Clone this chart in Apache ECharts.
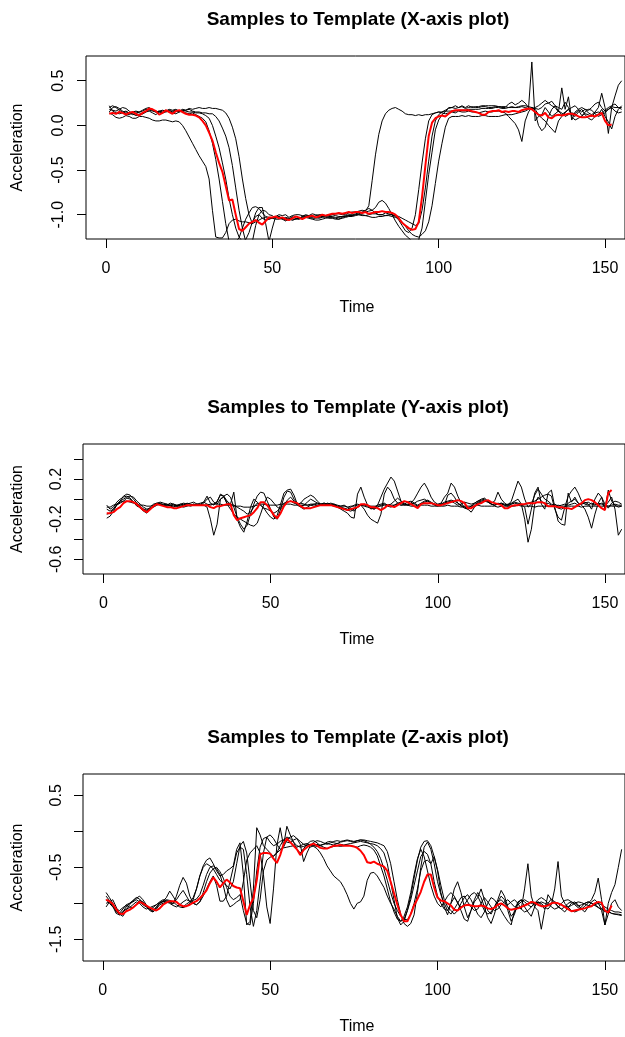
<!DOCTYPE html>
<html>
<head>
<meta charset="utf-8">
<script src="https://cdn.jsdelivr.net/npm/echarts@6/dist/echarts.min.js"></script>
<style>
html,body{margin:0;padding:0;background:#fff;}
#chart{width:625px;height:1037px;}
</style>
</head>
<body>
<div id="chart"></div>
<script>
// ---------- DATA (values at Time = 1, 2, 3, ...) ----------
const titles = ['Samples to Template (X-axis plot)', 'Samples to Template (Y-axis plot)', 'Samples to Template (Z-axis plot)'];
const xAxisTitle = 'Time';
const yAxisTitle = 'Acceleration';
const timeTicks = [0, 50, 100, 150];
const xPanelTicks = [0.5, 0.0, -0.5, -1.0];
const xPanelLabels = [0.5, 0.0, -0.5, -1.0];
const yPanelTicks = [0.4, 0.2, 0.0, -0.2, -0.4, -0.6];
const yPanelLabels = [0.2, -0.2, -0.6];
const zPanelTicks = [0.5, 0.0, -0.5, -1.0, -1.5];
const zPanelLabels = [0.5, -0.5, -1.5];

const xTemplate = [
0.13,0.14,0.13,0.15,0.14,0.12,0.14,0.15,0.13,0.11,
0.14,0.16,0.19,0.18,0.16,0.12,0.14,0.17,0.15,0.13,
0.16,0.17,0.15,0.13,0.12,0.12,0.11,0.09,0.05,0.00,
-0.08,-0.17,-0.30,-0.42,-0.52,-0.68,-0.84,-0.83,-1.00,-1.16,
-1.18,-1.14,-1.10,-1.08,-1.06,-1.09,-1.11,-1.07,-1.03,-1.03,
-1.02,-1.04,-1.03,-1.05,-1.06,-1.04,-1.02,-1.03,-1.05,-1.03,
-1.02,-1.01,-1.03,-1.02,-1.00,-1.01,-1.00,-0.99,-0.99,-0.98,
-0.99,-0.98,-0.97,-0.98,-0.97,-0.97,-0.98,-0.97,-0.99,-0.98,
-0.97,-0.97,-0.96,-0.97,-0.97,-0.98,-1.00,-1.04,-1.09,-1.12,
-1.15,-1.17,-1.16,-1.08,-0.80,-0.45,-0.12,0.03,0.08,0.10,
0.11,0.10,0.13,0.16,0.17,0.17,0.17,0.17,0.17,0.16,
0.15,0.14,0.12,0.12,0.15,0.16,0.16,0.17,0.15,0.16,
0.15,0.16,0.16,0.15,0.17,0.18,0.19,0.18,0.15,0.12,
0.11,0.14,0.09,0.08,0.11,0.12,0.11,0.12,0.13,0.13,
0.12,0.10,0.09,0.09,0.10,0.11,0.10,0.12,0.14,0.05,
0.00,0.01];

const xSample1 = [
0.14,0.12,0.09,0.08,0.09,0.11,0.10,0.08,0.08,0.10,
0.10,0.09,0.08,0.06,0.05,0.05,0.06,0.06,0.05,0.04,
0.05,0.04,0.00,-0.06,-0.13,-0.20,-0.27,-0.34,-0.40,-0.46,
-0.60,-0.95,-1.25,-1.26,-1.26,-1.20,-1.10,-1.06,-1.05,-1.07,
-1.08,-1.08,-1.09,-1.10,-1.08,-1.06,-1.04,-1.03,-1.05,-1.04,
-1.05,-1.05,-1.04,-1.04,-1.05,-1.06,-1.05,-1.04,-1.03,-1.02,
-1.03,-1.04,-1.04,-1.03,-1.02,-1.01,-1.00,-1.00,-0.99,-0.99,
-1.00,-1.00,-0.98,-0.97,-0.97,-0.96,-0.95,-0.96,-0.90,-0.62,
-0.33,-0.10,0.05,0.13,0.17,0.19,0.20,0.18,0.16,0.13,
0.12,0.12,0.11,0.12,0.11,0.12,0.12,0.13,0.14,0.15,
0.15,0.16,0.16,0.16,0.16,0.17,0.17,0.17,0.18,0.18,
0.18,0.18,0.19,0.19,0.19,0.19,0.20,0.20,0.19,0.19,
0.20,0.21,0.20,0.20,0.21,0.20,0.19,0.71,0.05,0.10,
0.12,0.20,0.15,0.10,0.13,0.16,0.14,0.10,0.12,0.14,
0.13,0.17,0.11,0.13,0.12,0.10,0.14,0.15,0.13,0.17,
0.20,0.22,0.24,0.20,0.18];

const xSample2 = [
0.20,0.22,0.20,0.17,0.15,0.16,0.14,0.12,0.13,0.15,
0.17,0.19,0.20,0.17,0.15,0.16,0.14,0.15,0.16,0.16,
0.17,0.15,0.16,0.14,0.13,0.14,0.12,0.10,0.08,0.04,
-0.06,-0.20,-0.38,-0.60,-0.85,-1.10,-1.30,-1.35,-1.30,-1.26,
-1.15,-1.05,-0.98,-0.92,-0.91,-0.93,-0.98,-1.02,-1.03,-1.04,
-1.03,-1.02,-1.04,-1.06,-1.05,-1.03,-1.04,-1.05,-1.02,-1.00,
-1.01,-1.02,-1.03,-1.04,-1.03,-1.02,-1.01,-1.00,-1.01,-1.02,
-1.02,-1.01,-1.00,-1.00,-0.99,-0.98,-0.98,-0.97,-0.96,-0.95,
-0.92,-0.86,-0.84,-0.87,-0.93,-1.00,-1.07,-1.13,-1.18,-1.23,
-1.26,-1.30,-1.32,-1.28,-1.15,-0.85,-0.55,-0.30,-0.05,0.06,
0.12,0.15,0.20,0.20,0.19,0.20,0.22,0.20,0.22,0.20,
0.21,0.21,0.22,0.22,0.22,0.22,0.22,0.21,0.20,0.20,
0.24,0.26,0.23,0.25,0.28,0.25,0.20,0.18,0.20,0.22,
0.25,0.28,0.25,0.22,0.20,0.15,0.42,0.18,0.32,0.06,
0.15,0.18,0.20,0.18,0.14,0.12,0.15,0.20,0.36,0.20,
-0.09,0.20,0.33,0.45,0.50];

const xSample3 = [
0.18,0.17,0.16,0.18,0.20,0.19,0.16,0.13,0.11,0.12,
0.13,0.15,0.16,0.14,0.12,0.15,0.16,0.17,0.15,0.14,
0.13,0.15,0.17,0.16,0.15,0.15,0.14,0.14,0.13,0.11,
0.08,0.00,-0.12,-0.25,-0.42,-0.60,-0.82,-1.00,-1.15,-1.25,
-1.30,-1.28,-1.20,-1.08,-1.02,-1.00,-1.04,-1.06,-1.05,-1.03,
-1.02,-1.04,-1.05,-1.03,-1.04,-1.06,-1.05,-1.04,-1.02,-1.01,
-1.02,-1.03,-1.01,-1.00,-1.00,-1.01,-1.02,-1.02,-1.03,-1.03,
-1.02,-1.02,-1.01,-1.01,-1.00,-1.00,-1.01,-1.01,-1.00,-0.99,
-0.99,-1.00,-1.00,-0.98,-0.99,-1.00,-1.02,-1.06,-1.12,-1.18,
-1.20,-1.15,-1.00,-0.72,-0.42,-0.15,0.05,0.12,0.14,0.15,
0.14,0.13,0.14,0.15,0.14,0.16,0.15,0.15,0.16,0.15,
0.15,0.14,0.15,0.16,0.15,0.15,0.16,0.16,0.15,0.14,
0.10,0.06,0.02,-0.05,-0.18,0.05,0.15,0.20,0.18,0.12,
0.08,0.05,0.00,-0.04,-0.08,0.05,0.10,0.14,0.18,0.12,
0.10,0.15,0.18,0.12,0.08,0.06,0.10,0.12,0.18,0.10,
0.04,-0.04,0.10,0.18,0.22];

const xSample4 = [
0.22,0.16,0.14,0.13,0.14,0.15,0.14,0.15,0.16,0.15,
0.16,0.18,0.17,0.16,0.15,0.16,0.17,0.16,0.17,0.15,
0.16,0.16,0.17,0.17,0.18,0.16,0.15,0.15,0.14,0.14,
0.13,0.13,0.10,0.05,-0.03,-0.12,-0.25,-0.45,-0.70,-0.95,
-1.15,-1.30,-1.35,-1.30,-1.12,-1.00,-0.95,-0.96,-1.00,-1.01,
-1.04,-1.02,-1.05,-1.07,-1.05,-1.02,-1.04,-1.05,-1.04,-1.03,
-1.04,-1.05,-1.06,-1.06,-1.05,-1.04,-1.03,-1.03,-1.04,-1.05,
-1.04,-1.03,-1.02,-1.02,-1.01,-1.00,-1.00,-1.01,-1.02,-1.03,
-1.03,-1.02,-1.02,-1.01,-1.01,-1.02,-1.03,-1.04,-1.08,-1.13,
-1.18,-1.22,-1.24,-1.25,-1.22,-1.18,-1.08,-0.90,-0.65,-0.40,
-0.20,-0.02,0.08,0.10,0.10,0.10,0.11,0.10,0.11,0.10,
0.10,0.10,0.11,0.11,0.10,0.10,0.10,0.10,0.11,0.12,
0.12,0.12,0.13,0.14,0.15,0.16,0.18,0.20,0.14,0.00,
-0.06,-0.02,0.10,0.18,0.22,0.20,0.18,0.26,0.20,0.10,
0.06,0.08,0.10,0.15,0.18,0.17,0.13,0.10,0.12,0.14,
0.18,0.20,0.16,0.14,0.15];

const xSample5 = [
0.15,0.20,0.21,0.19,0.16,0.13,0.12,0.14,0.15,0.14,
0.13,0.15,0.18,0.17,0.16,0.15,0.14,0.16,0.18,0.17,
0.18,0.16,0.18,0.17,0.19,0.18,0.19,0.20,0.19,0.19,
0.20,0.19,0.19,0.18,0.17,0.14,0.08,-0.02,-0.15,-0.35,
-0.60,-0.82,-1.00,-1.10,-0.98,-0.92,-0.92,-1.10,-1.30,-1.15,
-1.02,-1.00,-1.01,-1.00,-1.03,-1.01,-1.00,-1.00,-1.01,-1.02,
-1.01,-0.99,-1.00,-1.01,-1.02,-1.03,-1.04,-1.04,-1.05,-1.05,
-1.03,-1.02,-1.01,-1.01,-1.00,-0.99,-0.97,-0.95,-0.93,-0.95,
-0.98,-1.00,-1.00,-1.01,-1.00,-1.00,-1.01,-1.02,-1.04,-1.06,
-1.08,-1.10,-1.12,-1.10,-0.95,-0.70,-0.40,-0.12,0.05,0.12,
0.15,0.17,0.19,0.20,0.22,0.20,0.21,0.19,0.20,0.21,
0.20,0.20,0.21,0.21,0.20,0.20,0.21,0.21,0.21,0.21,
0.20,0.20,0.20,0.21,0.22,0.22,0.21,0.20,0.19,0.18,
0.20,0.24,0.25,0.27,0.22,0.16,0.12,0.15,0.18,0.20,
0.22,0.18,0.15,0.18,0.17,0.20,0.24,0.26,0.20,0.16,
0.18,0.21,0.20,0.20,0.20];

const yTemplate = [
-0.14,-0.14,-0.13,-0.10,-0.08,-0.04,-0.02,-0.02,-0.03,-0.05,
-0.08,-0.11,-0.13,-0.10,-0.07,-0.05,-0.06,-0.07,-0.08,-0.08,
-0.09,-0.09,-0.08,-0.07,-0.06,-0.06,-0.06,-0.06,-0.06,-0.06,
-0.06,-0.08,-0.09,-0.07,-0.07,-0.06,-0.05,-0.05,-0.16,-0.21,
-0.19,-0.18,-0.17,-0.16,-0.13,-0.09,-0.03,-0.03,-0.06,-0.11,
-0.16,-0.19,-0.14,-0.07,-0.03,-0.02,-0.03,-0.04,-0.07,-0.09,
-0.09,-0.09,-0.08,-0.07,-0.06,-0.06,-0.06,-0.06,-0.07,-0.08,
-0.09,-0.10,-0.11,-0.10,-0.09,-0.08,-0.05,-0.05,-0.06,-0.08,
-0.08,-0.09,-0.11,-0.09,-0.06,-0.07,-0.08,-0.06,-0.04,-0.02,
-0.03,-0.05,-0.07,-0.09,-0.05,-0.04,-0.04,-0.04,-0.05,-0.06,
-0.06,-0.05,-0.04,-0.03,-0.02,-0.01,-0.02,-0.04,-0.09,-0.09,
-0.07,-0.05,-0.04,-0.02,-0.01,-0.03,-0.04,-0.05,-0.06,-0.09,
-0.09,-0.07,-0.06,-0.06,-0.05,-0.05,-0.04,-0.04,-0.04,-0.03,
-0.03,-0.04,-0.07,-0.07,-0.07,-0.08,-0.08,-0.09,-0.09,-0.10,
-0.08,-0.06,-0.04,-0.01,0.00,-0.01,-0.03,-0.06,-0.09,-0.11,
0.06,0.09];

const ySample1 = [
-0.06,-0.10,-0.08,-0.03,0.00,0.02,0.03,0.01,-0.03,-0.06,
-0.09,-0.12,-0.14,-0.10,-0.06,-0.04,-0.05,-0.06,-0.05,-0.07,
-0.08,-0.06,-0.05,-0.04,-0.05,-0.04,-0.03,-0.05,-0.06,-0.06,
-0.08,-0.20,-0.36,-0.25,0.00,0.02,-0.04,-0.05,-0.06,-0.08,
-0.10,-0.12,-0.15,-0.13,-0.08,-0.04,-0.06,-0.09,-0.10,-0.12,
-0.14,-0.12,-0.08,-0.04,-0.03,-0.02,-0.04,-0.05,-0.04,-0.05,
-0.06,-0.05,-0.05,-0.06,-0.05,-0.04,-0.05,-0.06,-0.07,-0.08,
-0.09,-0.10,-0.11,-0.12,-0.10,-0.08,-0.06,-0.05,-0.06,-0.08,
-0.10,-0.06,0.02,0.10,0.16,0.22,0.18,0.08,-0.02,-0.06,
-0.05,-0.04,-0.05,-0.07,-0.05,-0.03,-0.02,-0.04,-0.06,-0.07,
-0.05,-0.03,-0.02,-0.01,-0.02,-0.04,-0.06,-0.08,-0.09,-0.07,
-0.05,-0.04,-0.03,-0.02,-0.03,-0.05,-0.06,-0.05,-0.04,-0.06,
-0.05,-0.04,-0.02,0.00,-0.05,-0.20,-0.43,-0.30,-0.05,0.02,
-0.02,-0.05,-0.04,-0.06,-0.05,-0.07,-0.06,-0.05,-0.06,-0.05,
-0.04,-0.06,-0.05,-0.04,-0.03,-0.05,-0.06,-0.04,-0.05,-0.07,
-0.03,0.02,-0.10,-0.36,-0.30];

const ySample2 = [
-0.19,-0.17,-0.12,-0.06,-0.02,0.03,0.05,0.04,0.00,-0.04,
-0.07,-0.10,-0.12,-0.08,-0.05,-0.04,-0.03,-0.04,-0.05,-0.06,
-0.06,-0.07,-0.06,-0.05,-0.06,-0.07,-0.06,-0.05,-0.04,-0.03,
0.03,-0.04,-0.06,-0.02,0.04,0.03,-0.02,-0.05,0.07,-0.20,
-0.28,-0.33,-0.22,-0.08,0.00,-0.03,-0.06,-0.09,-0.14,-0.18,
-0.20,-0.16,-0.05,0.06,0.09,0.10,0.04,-0.05,-0.07,-0.06,
-0.03,0.00,-0.02,-0.04,-0.05,-0.06,-0.04,-0.05,-0.06,-0.08,
-0.10,-0.12,-0.14,-0.18,-0.19,0.05,0.12,0.02,-0.06,-0.10,
-0.08,-0.06,-0.05,-0.04,-0.06,-0.05,-0.02,0.01,-0.02,-0.04,
-0.06,-0.05,-0.04,-0.02,-0.01,0.00,-0.02,-0.04,-0.05,-0.06,
-0.05,-0.04,-0.03,-0.02,-0.04,-0.06,-0.05,-0.03,-0.04,-0.05,
-0.04,-0.02,0.00,0.01,-0.02,-0.04,-0.02,0.07,0.00,-0.04,
-0.06,-0.02,0.08,0.18,0.12,0.00,-0.08,-0.05,0.04,0.10,
0.05,0.00,-0.02,-0.05,-0.07,-0.09,-0.10,-0.08,-0.04,-0.02,
0.00,-0.04,-0.06,-0.10,-0.18,-0.29,-0.15,-0.04,0.02,-0.05,
-0.09,-0.04,-0.02,-0.03,-0.05];

const ySample3 = [
-0.15,-0.14,-0.10,-0.05,-0.02,0.00,0.02,0.03,0.02,-0.02,
-0.05,-0.08,-0.10,-0.09,-0.07,-0.05,-0.04,-0.06,-0.07,-0.06,
-0.05,-0.06,-0.07,-0.08,-0.07,-0.06,-0.05,-0.06,-0.05,-0.03,
-0.05,-0.06,-0.05,-0.03,0.05,0.03,-0.05,-0.10,-0.15,-0.18,
-0.20,-0.22,-0.24,-0.26,-0.27,-0.24,-0.15,-0.05,0.02,0.00,
-0.04,-0.08,-0.10,-0.06,-0.01,0.02,-0.02,-0.06,-0.08,-0.10,
-0.08,-0.06,-0.05,-0.04,-0.05,-0.04,-0.05,-0.06,-0.05,-0.06,
-0.07,-0.06,-0.08,-0.10,-0.12,-0.08,-0.06,-0.07,-0.08,-0.09,
-0.10,-0.08,-0.06,-0.05,-0.07,-0.08,-0.06,-0.04,-0.03,-0.05,
-0.06,-0.04,0.00,0.06,0.12,0.16,0.10,0.02,-0.03,-0.05,
-0.04,0.02,0.06,0.16,0.12,0.03,-0.04,-0.08,-0.10,-0.07,
-0.04,-0.02,-0.01,0.00,-0.03,-0.05,-0.06,-0.05,-0.04,-0.05,
-0.06,-0.05,-0.04,-0.05,-0.06,-0.05,-0.04,-0.03,-0.02,0.00,
0.02,0.04,0.05,0.03,-0.10,-0.18,-0.21,-0.08,0.03,0.08,
0.12,0.06,-0.02,-0.05,-0.06,-0.04,-0.05,-0.06,-0.04,-0.06,
-0.07,-0.06,-0.05,-0.06,-0.06];

const ySample4 = [
-0.10,-0.12,-0.10,-0.06,-0.04,-0.02,0.01,0.00,-0.03,-0.07,
-0.08,-0.10,-0.11,-0.09,-0.08,-0.06,-0.05,-0.05,-0.06,-0.04,
-0.05,-0.07,-0.05,-0.06,-0.04,-0.05,-0.06,-0.05,-0.06,-0.04,
0.00,0.02,-0.03,-0.05,0.00,0.03,0.05,0.02,-0.08,-0.18,
-0.25,-0.30,-0.26,-0.15,-0.05,0.03,0.07,0.06,-0.02,-0.10,
-0.18,-0.20,-0.10,0.02,0.08,0.07,0.00,-0.05,-0.04,0.00,
0.02,0.04,0.02,-0.02,-0.05,-0.06,-0.05,-0.04,-0.05,-0.07,
-0.08,-0.09,-0.10,-0.08,-0.06,-0.05,-0.06,-0.10,-0.16,-0.20,
-0.22,-0.24,-0.15,0.05,0.12,0.08,0.00,-0.04,-0.06,-0.05,
-0.03,-0.02,-0.04,-0.06,-0.04,-0.02,-0.01,-0.03,-0.05,-0.06,
-0.05,-0.06,0.04,0.06,0.02,-0.04,-0.07,-0.09,-0.10,-0.13,
-0.08,-0.03,-0.02,-0.01,-0.02,-0.05,-0.06,-0.04,-0.05,-0.06,
-0.07,-0.05,-0.03,-0.04,-0.05,-0.08,-0.25,-0.10,0.06,0.12,
-0.05,-0.10,0.06,0.09,-0.08,-0.22,-0.25,-0.26,0.06,-0.03,
0.02,-0.04,-0.05,-0.03,-0.05,-0.10,0.00,0.06,0.02,-0.10,
0.09,-0.02,-0.06,-0.08,-0.07];

const ySample5 = [
-0.08,-0.08,-0.06,-0.05,-0.03,-0.02,-0.02,-0.03,-0.04,-0.05,
-0.06,-0.06,-0.07,-0.07,-0.06,-0.05,-0.05,-0.06,-0.06,-0.06,
-0.07,-0.07,-0.07,-0.06,-0.06,-0.06,-0.05,-0.06,-0.06,-0.06,
-0.06,-0.05,-0.05,-0.05,-0.05,-0.06,-0.06,-0.06,-0.07,-0.07,
-0.07,-0.08,-0.08,-0.08,-0.07,-0.06,-0.05,-0.05,-0.06,-0.06,
-0.06,-0.06,-0.05,-0.05,-0.05,-0.05,-0.06,-0.06,-0.06,-0.06,
-0.06,-0.06,-0.07,-0.06,-0.06,-0.06,-0.05,-0.06,-0.06,-0.07,
-0.07,-0.07,-0.08,-0.07,-0.07,-0.06,-0.06,-0.06,-0.07,-0.07,
-0.07,-0.07,-0.07,-0.06,-0.06,-0.06,-0.06,-0.05,-0.06,-0.06,
-0.06,-0.07,-0.07,-0.07,-0.06,-0.06,-0.06,-0.07,-0.07,-0.07,
-0.07,-0.07,-0.06,-0.07,-0.07,-0.07,-0.08,-0.07,-0.07,-0.07,
-0.07,-0.06,-0.07,-0.07,-0.07,-0.07,-0.07,-0.08,-0.07,-0.07,
-0.07,-0.07,-0.07,-0.06,-0.07,-0.07,-0.07,-0.07,-0.08,-0.07,
-0.07,-0.07,-0.07,-0.07,-0.07,-0.06,-0.07,-0.07,-0.07,-0.07,
-0.07,-0.07,-0.08,-0.07,-0.07,-0.07,-0.07,-0.07,-0.07,-0.07,
-0.07,-0.07,-0.07,-0.07,-0.07];

const zTemplate = [
-0.95,-0.97,-1.01,-1.08,-1.14,-1.15,-1.11,-1.09,-1.06,-1.02,
-0.98,-1.00,-1.03,-1.06,-1.08,-1.10,-1.07,-1.02,-0.99,-0.97,
-0.97,-0.98,-1.02,-1.04,-1.04,-1.02,-0.99,-0.97,-0.93,-0.88,
-0.82,-0.72,-0.64,-0.70,-0.78,-0.72,-0.67,-0.71,-0.76,-0.78,
-0.79,-0.97,-1.16,-1.02,-0.93,-0.68,-0.32,-0.30,-0.30,-0.31,
-0.38,-0.44,-0.33,-0.18,-0.10,-0.15,-0.20,-0.25,-0.33,-0.26,
-0.22,-0.19,-0.17,-0.20,-0.23,-0.24,-0.24,-0.22,-0.20,-0.20,
-0.19,-0.20,-0.20,-0.20,-0.21,-0.23,-0.27,-0.33,-0.43,-0.44,
-0.42,-0.45,-0.47,-0.49,-0.55,-0.70,-0.86,-1.02,-1.16,-1.25,
-1.25,-1.15,-1.03,-0.94,-0.84,-0.70,-0.60,-0.60,-0.78,-0.92,
-0.96,-0.97,-1.00,-1.03,-1.09,-1.10,-1.06,-1.03,-1.02,-1.03,
-1.04,-1.04,-1.03,-1.04,-1.07,-1.08,-1.06,-1.02,-1.00,-1.03,
-1.07,-1.09,-1.08,-1.07,-1.05,-1.03,-1.01,-0.98,-0.99,-1.02,
-1.04,-1.04,-1.03,-1.00,-0.99,-1.00,-1.02,-1.05,-1.08,-1.11,
-1.10,-1.09,-1.08,-1.07,-1.05,-1.04,-1.00,-0.98,-0.99,-1.10,
-1.13,-1.03];

const zSample1 = [
-0.85,-0.92,-1.00,-1.12,-1.14,-1.08,-1.02,-1.00,-0.98,-0.95,
-0.98,-1.02,-1.05,-1.08,-1.10,-1.05,-1.00,-0.97,-0.92,-0.83,
-0.90,-0.98,-1.02,-1.05,-1.01,-0.98,-0.92,-0.80,-0.62,-0.50,
-0.45,-0.48,-0.52,-0.60,-0.68,-0.72,-0.75,-0.80,-0.70,-0.45,
-0.20,-0.14,-0.30,-0.70,-1.10,-1.20,-0.95,-0.55,-0.40,-0.36,
-0.34,-0.30,-0.26,-0.23,-0.22,-0.21,-0.20,-0.22,-0.20,-0.18,
-0.17,-0.19,-0.21,-0.24,-0.30,-0.38,-0.48,-0.55,-0.62,-0.66,
-0.70,-0.78,-0.88,-1.00,-1.08,-1.00,-0.98,-0.90,-0.68,-0.58,
-0.57,-0.62,-0.70,-0.78,-0.90,-1.00,-1.08,-1.18,-1.25,-1.22,
-1.10,-0.90,-0.65,-0.40,-0.22,-0.14,-0.13,-0.20,-0.35,-0.55,
-0.85,-1.05,-1.16,-1.00,-0.80,-0.70,-0.85,-1.05,-1.20,-1.10,
-0.95,-0.85,-0.92,-1.05,-1.20,-1.28,-1.15,-0.98,-0.90,-0.95,
-1.10,-1.25,-1.15,-1.00,-0.95,-1.05,-1.12,-1.18,-1.05,-0.98,
-1.02,-1.08,-1.00,-0.94,-0.98,-1.05,-1.08,-1.12,-1.06,-1.00,
-0.98,-1.02,-1.08,-1.12,-1.05,-0.98,-0.95,-1.00,-1.08,-1.12,
-1.10,-1.14,-1.15,-1.16,-1.17];

const zSample2 = [
-0.95,-1.00,-1.05,-1.10,-1.16,-1.12,-1.05,-1.00,-0.96,-0.92,
-0.94,-1.00,-1.04,-1.08,-1.06,-1.02,-0.98,-0.95,-0.96,-0.98,
-1.00,-0.95,-0.88,-0.82,-0.90,-0.98,-0.95,-0.80,-0.62,-0.48,
-0.40,-0.37,-0.45,-0.55,-0.62,-0.60,-0.55,-0.52,-0.48,-0.25,
-0.16,-0.60,-1.30,-1.25,-0.80,0.05,-0.05,-0.20,-0.25,-0.30,
-0.35,-0.30,-0.20,-0.12,-0.08,-0.10,-0.15,-0.20,-0.22,-0.21,
-0.19,-0.18,-0.20,-0.21,-0.19,-0.18,-0.17,-0.18,-0.19,-0.17,
-0.18,-0.19,-0.18,-0.17,-0.16,-0.15,-0.14,-0.15,-0.16,-0.17,
-0.18,-0.20,-0.24,-0.30,-0.45,-0.70,-0.95,-1.20,-1.30,-1.25,
-1.10,-0.95,-0.75,-0.55,-0.35,-0.28,-0.32,-0.45,-0.70,-0.90,
-1.00,-1.08,-1.10,-1.00,-0.92,-0.98,-1.10,-1.22,-1.25,-1.10,
-0.98,-0.92,-0.80,-0.95,-1.10,-1.15,-1.05,-0.95,-0.82,-0.90,
-1.05,-1.18,-1.12,-1.05,-1.08,-0.80,-0.45,-0.90,-1.05,-1.10,
-1.36,-1.10,-0.88,-0.95,-1.00,-1.04,-1.08,-1.05,-1.00,-0.98,
-1.00,-1.04,-1.02,-1.00,-0.98,-1.00,-1.02,-1.05,-1.10,-1.30,
-1.00,-0.85,-0.74,-0.50,-0.25];

const zSample3 = [
-1.05,-0.98,-0.95,-1.05,-1.15,-1.18,-1.10,-1.02,-0.97,-0.93,
-0.90,-0.95,-1.02,-1.08,-1.12,-1.08,-1.02,-1.00,-0.98,-0.99,
-1.01,-0.90,-0.75,-0.64,-0.72,-0.90,-1.00,-1.02,-0.98,-0.85,
-0.70,-0.58,-0.52,-0.50,-0.56,-0.65,-0.78,-0.90,-0.95,-0.92,
-0.88,-1.10,-1.28,-1.30,-1.00,-0.55,-0.22,-0.10,-0.08,-0.15,
-0.20,-0.18,-0.14,-0.12,-0.15,-0.16,-0.12,-0.10,-0.14,-0.18,
-0.20,-0.22,-0.20,-0.18,-0.20,-0.22,-0.24,-0.22,-0.21,-0.20,
-0.21,-0.20,-0.19,-0.20,-0.21,-0.22,-0.20,-0.19,-0.20,-0.22,
-0.26,-0.34,-0.48,-0.62,-0.80,-0.98,-1.12,-1.22,-1.25,-1.18,
-1.05,-0.85,-0.60,-0.38,-0.25,-0.35,-0.55,-0.75,-0.90,-1.00,
-1.05,-0.98,-0.90,-0.85,-0.90,-1.00,-1.05,-1.02,-0.95,-0.88,
-0.85,-0.90,-1.00,-1.10,-1.15,-1.12,-1.05,-0.98,-0.95,-1.00,
-1.02,-0.98,-0.95,-1.00,-1.08,-1.12,-1.10,-1.05,-1.00,-0.98,
-1.00,-1.05,-1.08,-1.02,-0.80,-0.42,-0.90,-1.00,-1.05,-1.10,
-1.12,-1.10,-1.05,-1.00,-0.98,-1.00,-1.03,-1.06,-1.08,-1.10,
-1.12,-1.14,-1.15,-1.15,-1.16];

const zSample4 = [
-0.90,-0.96,-1.02,-1.08,-1.10,-1.06,-1.03,-1.05,-1.06,-1.02,
-0.96,-0.98,-1.04,-1.10,-1.12,-1.06,-1.00,-0.98,-0.95,-0.96,
-0.98,-1.02,-1.05,-1.06,-1.04,-1.00,-0.96,-0.94,-0.88,-0.75,
-0.60,-0.50,-0.48,-0.52,-0.60,-0.75,-0.95,-1.05,-1.02,-0.98,
-0.95,-0.70,-0.40,-0.30,-0.25,-0.20,-0.30,-0.60,-1.05,-1.28,
-0.80,-0.20,0.05,-0.20,0.07,-0.05,-0.15,-0.25,-0.30,-0.24,
-0.18,-0.14,-0.13,-0.16,-0.20,-0.18,-0.15,-0.14,-0.16,-0.17,
-0.15,-0.14,-0.13,-0.14,-0.15,-0.13,-0.12,-0.13,-0.15,-0.18,
-0.22,-0.28,-0.38,-0.52,-0.68,-0.85,-1.00,-1.10,-1.18,-1.22,
-1.23,-1.15,-1.00,-0.80,-0.55,-0.42,-0.40,-0.45,-0.35,-0.53,
-0.75,-0.95,-1.05,-1.10,-1.15,-1.10,-1.00,-0.92,-0.88,-0.95,
-1.05,-1.15,-1.20,-1.12,-1.00,-0.92,-0.95,-1.02,-1.10,-1.18,
-1.25,-1.30,-1.10,-0.98,-0.95,-0.98,-1.02,-1.05,-1.00,-0.95,
-0.92,-0.95,-1.00,-1.05,-1.08,-1.06,-1.00,-0.96,-0.95,-0.98,
-1.02,-1.06,-1.08,-1.04,-1.00,-0.95,-0.85,-0.65,-0.95,-1.30,
-1.15,-1.00,-0.95,-1.05,-1.10];

const zSample5 = [
-1.00,-0.98,-1.04,-1.14,-1.16,-1.12,-1.08,-1.06,-1.02,-0.98,
-1.00,-1.05,-1.08,-1.06,-1.04,-1.02,-0.99,-0.97,-0.98,-1.00,
-1.03,-1.05,-1.02,-0.98,-0.95,-0.97,-1.00,-1.02,-0.98,-0.90,
-0.80,-0.70,-0.62,-0.75,-0.97,-0.97,-0.90,-0.70,-0.50,-0.30,
-0.22,-0.25,-0.60,-1.05,-1.32,-1.10,-0.70,-0.30,-0.08,-0.05,
-0.10,-0.18,-0.25,-0.22,-0.12,-0.08,-0.06,-0.10,-0.18,-0.42,
-0.30,-0.20,-0.15,-0.13,-0.14,-0.16,-0.18,-0.16,-0.14,-0.13,
-0.14,-0.13,-0.12,-0.13,-0.14,-0.13,-0.12,-0.12,-0.13,-0.14,
-0.15,-0.16,-0.18,-0.20,-0.28,-0.45,-0.70,-0.95,-1.15,-1.28,
-1.32,-1.28,-1.16,-0.85,-0.50,-0.22,-0.15,-0.25,-0.45,-0.70,
-0.88,-1.00,-1.10,-1.15,-1.08,-1.00,-0.92,-0.90,-0.98,-1.05,
-1.10,-1.08,-1.00,-0.92,-0.98,-1.05,-1.10,-1.08,-1.02,-0.98,
-0.95,-1.00,-1.05,-1.02,-0.98,-0.95,-0.98,-1.00,-1.02,-1.00,
-0.98,-1.00,-1.02,-1.00,-0.98,-1.00,-1.02,-1.04,-1.05,-1.03,
-1.00,-0.98,-0.99,-1.01,-1.03,-1.04,-1.02,-1.00,-1.02,-1.05,
-1.08,-1.10,-1.12,-1.12,-1.13];

// ---------- LAYOUT / STYLE ----------
const FONT = '"Liberation Sans", Arial, Helvetica, sans-serif';
const panels = [
  { samples: [xSample1, xSample2, xSample3, xSample4, xSample5], template: xTemplate,
    grid: { left: 86, top: 56, width: 543.5, height: 183 },
    xr: [-6, 156], yr: [-1.272, 0.777], ticks: xPanelTicks, labels: xPanelLabels,
    titleY: 20, timeY: 308, labelMargin: 19 },
  { samples: [ySample1, ySample2, ySample3, ySample4, ySample5], template: yTemplate,
    grid: { left: 83, top: 444, width: 548.4, height: 130 },
    xr: [-6.1, 156], yr: [-0.747, 0.55], ticks: yPanelTicks, labels: yPanelLabels,
    titleY: 408, timeY: 640, labelMargin: 18 },
  { samples: [zSample1, zSample2, zSample3, zSample4, zSample5], template: zTemplate,
    grid: { left: 83, top: 774, width: 548, height: 187 },
    xr: [-5.9, 156], yr: [-1.801, 0.796], ticks: zPanelTicks, labels: zPanelLabels,
    titleY: 738, timeY: 1027, labelMargin: 18 }
];

const toXY = arr => arr.map((v, i) => [i + 1, v]);

const grids = [], xAxes = [], yAxes = [], series = [], graphics = [];
panels.forEach((p, k) => {
  grids.push(Object.assign({ show: true, borderColor: '#000', borderWidth: 1, backgroundColor: 'transparent' }, p.grid));
  xAxes.push({
    gridIndex: k, type: 'value', position: 'bottom', min: p.xr[0], max: p.xr[1],
    axisLine: { show: false, onZero: false }, splitLine: { show: false },
    axisTick: { show: true, length: 9, lineStyle: { color: '#000', width: 1 }, customValues: timeTicks },
    axisLabel: { show: true, customValues: timeTicks, color: '#000', fontSize: 16, fontFamily: FONT, margin: 22,
                 formatter: v => String(v) }
  });
  yAxes.push({
    gridIndex: k, type: 'value', position: 'left', min: p.yr[0], max: p.yr[1],
    axisLine: { show: false, onZero: false }, splitLine: { show: false },
    axisTick: { show: true, length: 9, lineStyle: { color: '#000', width: 1 }, customValues: p.ticks },
    axisLabel: { show: true, customValues: p.labels, rotate: 90, color: '#000', fontSize: 16, fontFamily: FONT,
                 margin: p.labelMargin, formatter: v => Number(v).toFixed(1) }
  });
  p.samples.forEach(s => series.push({
    type: 'line', xAxisIndex: k, yAxisIndex: k, data: toXY(s), symbol: 'none', silent: true,
    lineStyle: { color: '#000', width: 1 }, z: 2
  }));
  series.push({
    type: 'line', xAxisIndex: k, yAxisIndex: k, data: toXY(p.template), symbol: 'none', silent: true,
    lineStyle: { color: '#ff0000', width: 2 }, z: 3
  });
  graphics.push({ type: 'text', x: 358, y: p.titleY, silent: true,
    style: { text: titles[k], fontSize: 19, fontWeight: 'bold', fontFamily: FONT, fill: '#000', align: 'center', verticalAlign: 'middle' } });
  graphics.push({ type: 'text', x: 357, y: p.timeY, silent: true,
    style: { text: xAxisTitle, fontSize: 16, fontFamily: FONT, fill: '#000', align: 'center', verticalAlign: 'middle' } });
  graphics.push({ type: 'text', x: 18, y: p.grid.top + p.grid.height / 2, rotation: Math.PI / 2, silent: true,
    style: { text: yAxisTitle, fontSize: 16, fontFamily: FONT, fill: '#000', align: 'center', verticalAlign: 'middle' } });
});

const chart = echarts.init(document.getElementById('chart'), null, { renderer: 'canvas' });
chart.setOption({
  animation: false,
  backgroundColor: '#ffffff',
  grid: grids, xAxis: xAxes, yAxis: yAxes, series: series, graphic: graphics
});
</script>
</body>
</html>
